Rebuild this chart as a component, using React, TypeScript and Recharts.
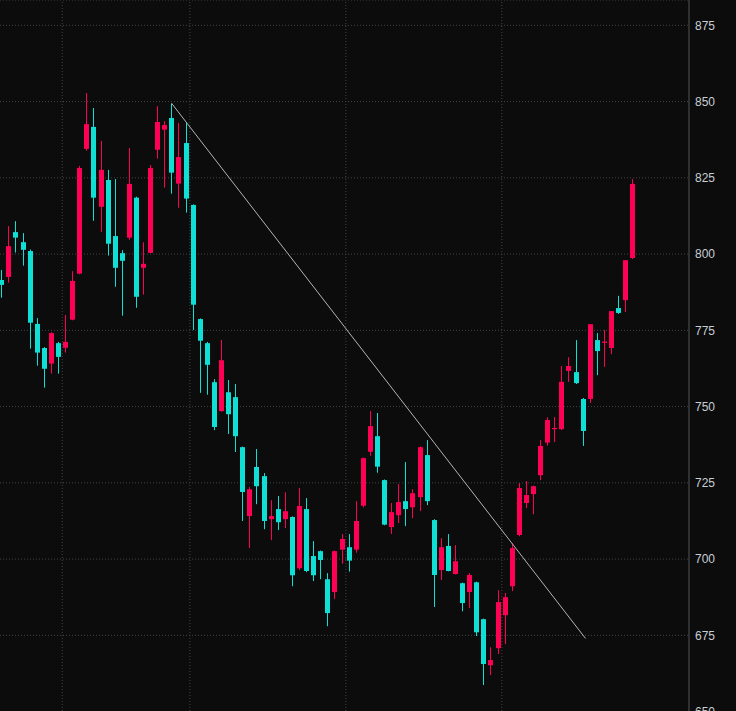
import React from "react";
import { ComposedChart, Bar, XAxis, YAxis, CartesianGrid, ReferenceLine } from "recharts";

const RED = "#ff0055";
const CYAN = "#10dfd6";
const BG = "#0c0c0c";
const GRID = "#444444";

const opens = [
  791.5, 792.5, 807.2, 803.9, 801.0, 777.1, 769.2, 764.1, 770.8, 769.3,
  778.5, 793.6, 834.5, 841.7, 815.5, 824.3, 805.9, 800.3, 805.4, 818.5,
  795.5, 800.4, 834.2, 840.8, 844.6, 823.1, 836.4, 816.1, 778.7, 770.8,
  758.0, 748.5, 754.7, 753.1, 736.7, 714.1, 730.2, 727.2, 713.1, 716.4,
  713.1, 713.8, 697.0, 716.4, 701.0, 702.6, 693.4, 689.2, 703.1, 703.9,
  703.1, 717.5, 735.2, 740.3, 725.9, 710.5, 714.4, 719.0, 717.0, 720.3,
  734.1, 712.8, 696.4, 704.3, 695.1, 692.1, 689.2, 692.4, 680.3, 665.2,
  670.8, 681.6, 691.1, 707.9, 718.4, 721.3, 727.5, 738.2, 742.6, 742.6,
  761.7, 761.3, 752.5, 752.5, 771.8, 770.9, 769.2, 782.3, 784.9, 798.7,
];
const highs = [
  794.8, 809.2, 810.8, 806.9, 801.5, 779.0, 769.5, 774.4, 771.2, 780.0,
  794.4, 828.9, 852.8, 847.9, 837.1, 827.6, 824.6, 801.3, 834.8, 818.8,
  803.9, 829.2, 848.5, 843.6, 849.2, 843.0, 843.0, 816.3, 778.9, 771.2,
  759.0, 771.8, 758.7, 757.4, 736.9, 723.6, 736.1, 728.2, 719.3, 720.7,
  721.9, 714.0, 723.3, 720.0, 705.9, 702.8, 695.4, 702.8, 708.2, 708.2,
  719.0, 733.3, 748.5, 747.9, 726.1, 718.4, 724.6, 731.8, 722.9, 736.9,
  739.0, 713.1, 706.9, 708.2, 704.6, 692.3, 695.4, 692.6, 680.5, 671.1,
  689.8, 688.9, 705.2, 724.9, 725.6, 724.1, 739.0, 746.5, 746.6, 763.3,
  766.2, 771.8, 752.8, 777.1, 774.1, 775.1, 781.3, 786.3, 798.0, 824.6,
];
const lows = [
  785.7, 790.6, 800.5, 796.2, 769.0, 763.4, 756.2, 760.8, 760.8, 767.7,
  778.3, 793.4, 833.9, 810.9, 807.3, 799.5, 789.3, 779.8, 804.7, 782.4,
  786.7, 800.3, 831.3, 821.8, 819.8, 815.2, 813.6, 775.1, 754.5, 753.9,
  742.3, 748.3, 741.0, 735.1, 712.5, 703.6, 718.0, 709.8, 706.2, 709.5,
  710.2, 691.1, 696.4, 695.7, 692.8, 693.4, 678.0, 686.9, 698.5, 695.9,
  702.1, 717.0, 733.9, 728.3, 711.1, 708.2, 711.8, 710.8, 713.4, 715.7,
  717.7, 684.3, 693.1, 696.0, 695.0, 682.9, 683.9, 674.8, 658.7, 662.0,
  668.9, 672.1, 689.5, 707.5, 716.7, 714.7, 725.9, 737.2, 738.4, 742.3,
  758.1, 757.4, 737.1, 751.2, 760.3, 763.0, 767.2, 780.4, 781.0, 798.4,
];
const closes = [
  789.9, 802.6, 805.4, 801.4, 777.5, 767.7, 762.4, 774.1, 766.3, 771.2,
  791.2, 828.2, 842.6, 818.5, 827.6, 803.4, 795.5, 797.8, 823.0, 786.0,
  796.8, 828.2, 843.3, 842.3, 826.7, 831.8, 818.2, 783.4, 771.6, 763.7,
  743.3, 765.2, 747.5, 740.3, 722.0, 722.9, 723.9, 712.5, 714.1, 712.1,
  715.7, 694.7, 717.4, 696.1, 694.7, 699.7, 682.3, 702.6, 706.6, 699.5,
  712.5, 733.1, 743.6, 730.3, 711.3, 715.4, 718.7, 716.4, 721.6, 736.7,
  719.0, 694.8, 703.9, 696.1, 699.3, 685.6, 694.8, 676.0, 665.6, 666.9,
  685.9, 687.5, 703.6, 723.3, 721.0, 723.9, 737.1, 745.6, 743.0, 758.1,
  763.3, 757.7, 742.0, 777.0, 768.2, 771.3, 781.3, 780.7, 798.0, 823.0,
];

const priceTicks = [650, 675, 700, 725, 750, 775, 800, 825, 850, 875];
const monthBreaks = [8.6, 26.6, 48.6, 70.6];
const trendStart = { x: 24, y: 849.5 };
const trendEnd = { x: 82.4, y: 674.0 };

const data = opens.map((o, i) => ({
  i,
  open: o,
  high: highs[i],
  low: lows[i],
  close: closes[i],
}));

const Candle = (props: any) => {
  const { x, y, width, height, payload } = props;
  if (!payload || height == null) return null;
  const { open, close, high, low } = payload;
  const up = close >= open;
  const color = up ? RED : CYAN;
  const cx = Math.round(x + width / 2);
  const range = high - low;
  const ppu = range > 0 ? height / range : 0;
  const bt = y + (high - Math.max(open, close)) * ppu;
  const bb = y + (high - Math.min(open, close)) * ppu;
  return (
    <g>
      <line x1={cx + 0.5} x2={cx + 0.5} y1={y} y2={y + height} stroke={color} strokeWidth={1} />
      <rect x={cx - 2} y={bt} width={5} height={Math.max(1, bb - bt)} fill={color} />
    </g>
  );
};

export default function App() {
  return (
    <div
      style={{
        position: "fixed",
        left: 0,
        top: 0,
        width: 736,
        height: 711,
        overflow: "hidden",
        background: BG,
      }}
    >
      <ComposedChart
        width={736}
        height={720}
        data={data}
        margin={{ top: 0, right: 0, bottom: 0, left: 0 }}
      >
        <CartesianGrid vertical={false} stroke={GRID} strokeDasharray="1 2" />
        <XAxis
          type="number"
          dataKey="i"
          domain={[-0.183, 97]}
          allowDataOverflow
          hide
        />
        <YAxis
          orientation="right"
          width={47}
          domain={[647.25, 883.3]}
          allowDataOverflow
          ticks={priceTicks}
          interval={0}
          axisLine={{ stroke: "#555555" }}
          tickLine={false}
          tickSize={5}
          tickMargin={1}
          tick={{ fill: "#c8cdd4", fontSize: 12, fontFamily: "'Liberation Sans', Arial, sans-serif" }}
        />
        {monthBreaks.map((m) => (
          <ReferenceLine key={m} x={m} stroke={GRID} strokeDasharray="1 2" />
        ))}
        <Bar
          dataKey={(d: any) => [d.low, d.high]}
          barSize={5}
          shape={Candle}
          isAnimationActive={false}
        />
        <ReferenceLine
          segment={[trendStart, trendEnd]}
          stroke="#b4b4b4"
          strokeWidth={1}
        />
      </ComposedChart>
    </div>
  );
}
